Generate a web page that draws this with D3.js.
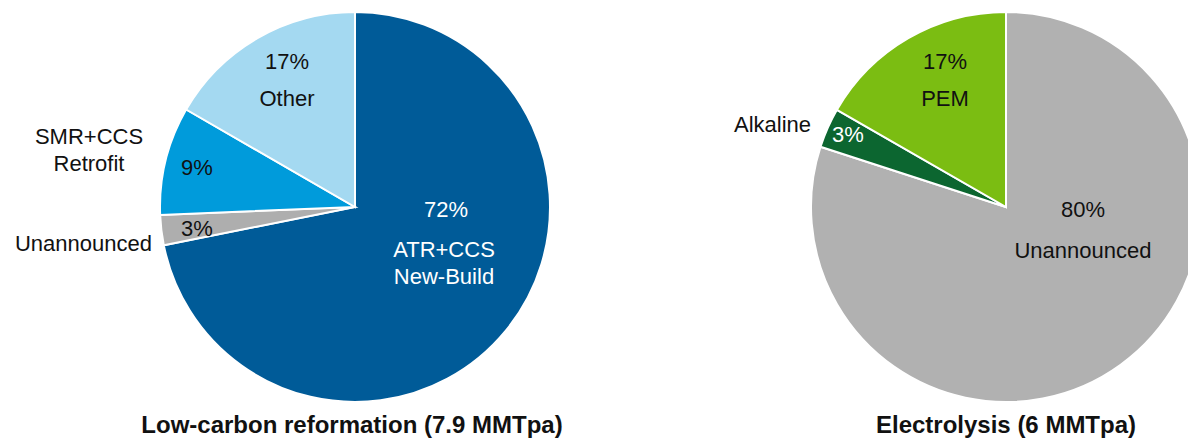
<!DOCTYPE html>
<html>
<head>
<meta charset="utf-8">
<script src="https://cdn.jsdelivr.net/npm/d3@7"></script>
<style>
  body { margin: 0; background: #fff; }
  text { font-family: "Liberation Sans", Arial, sans-serif; }
</style>
</head>
<body>
<svg id="chart"></svg>
<script>
var width = 1188,
    height = 440;

// Low-carbon reformation, clockwise from 12 o'clock
var reformCategories = ["ATR+CCS New-Build", "Unannounced", "SMR+CCS Retrofit", "Other"],
    reformValues = [72, 2.5, 9, 16.7],
    reformLabels = ["72%", "3%", "9%", "17%"];

// Electrolysis, clockwise from 12 o'clock
var elecCategories = ["Unannounced", "Alkaline", "PEM"],
    elecValues = [80, 3.3, 16.7],
    elecLabels = ["80%", "3%", "17%"];

var titles = ["Low-carbon reformation (7.9 MMTpa)", "Electrolysis (6 MMTpa)"];

var radius = 195;

var svg = d3.select("#chart")
    .attr("width", width)
    .attr("height", height);

var pie = d3.pie().sort(null).value(function(d) { return d.value; });
var arc = d3.arc().innerRadius(0).outerRadius(radius);

function drawPie(cx, cy, cats, vals, colors) {
  var data = cats.map(function(c, i) { return {name: c, value: vals[i]}; });
  var color = d3.scaleOrdinal().domain(cats).range(colors);
  var g = svg.append("g")
      .attr("transform", "translate(" + cx + "," + cy + ")");
  g.selectAll("path")
      .data(pie(data))
    .enter().append("path")
      .attr("d", arc)
      .attr("fill", function(d) { return color(d.data.name); })
      .attr("stroke", "#fff")
      .attr("stroke-width", 2);
  return g;
}

function label(g, x, y, lines, fill, anchor) {
  var t = g.append("text")
      .attr("x", x)
      .attr("y", y)
      .attr("fill", fill)
      .attr("font-size", 22)
      .style("text-anchor", anchor || "middle");
  lines.forEach(function(l, i) {
    t.append("tspan").attr("x", x).attr("dy", i ? 27 : 0).text(l);
  });
}

// left pie
var cxL = 355, cyL = 207;
var gL = drawPie(cxL, cyL, reformCategories, reformValues,
    ["#005B98", "#AEAEAE", "#009BDB", "#A4D9F1"]);
label(gL, 91, 10, [reformLabels[0]], "#fff");
label(gL, 89, 50, ["ATR+CCS"], "#fff");
label(gL, 89, 77, ["New-Build"], "#fff");
label(gL, -158, 29, [reformLabels[1]], "#111");
label(gL, -158, -32, [reformLabels[2]], "#111");
label(gL, -68, -138, [reformLabels[3]], "#111");
label(gL, -68, -101, ["Other"], "#111");
label(gL, -266, -63, ["SMR+CCS", "Retrofit"], "#111");
label(gL, -203, 44, ["Unannounced"], "#111", "end");

// right pie
var cxR = 1006, cyR = 207;
var gR = drawPie(cxR, cyR, elecCategories, elecValues,
    ["#B1B1B1", "#0C6630", "#7BBD12"]);
label(gR, 77, 10, [elecLabels[0]], "#111");
label(gR, 77, 51, ["Unannounced"], "#111");
label(gR, -158, -65, [elecLabels[1]], "#fff");
label(gR, -61, -138, [elecLabels[2]], "#111");
label(gR, -61, -101, ["PEM"], "#111");
label(gR, -195, -75, ["Alkaline"], "#111", "end");

// titles
svg.selectAll(".title")
    .data(titles)
  .enter().append("text")
    .attr("class", "title")
    .attr("x", function(d, i) { return i ? 1006 : 352; })
    .attr("y", 433)
    .attr("font-size", 24)
    .attr("font-weight", "bold")
    .attr("fill", "#111")
    .style("text-anchor", "middle")
    .text(function(d) { return d; });
</script>
</body>
</html>
